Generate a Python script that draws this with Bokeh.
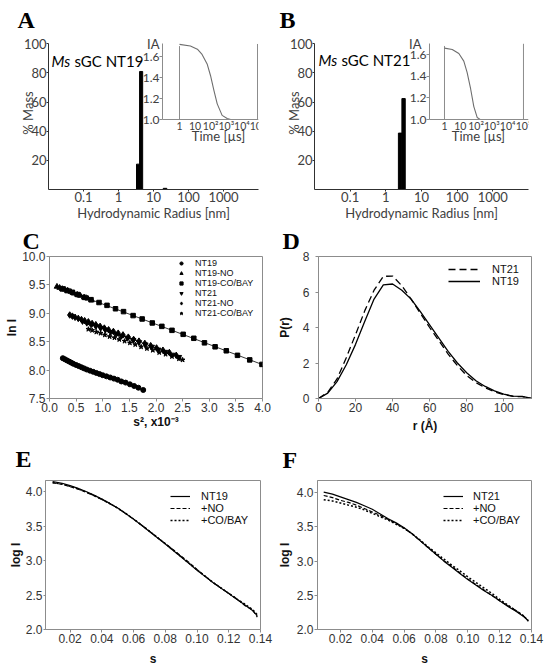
import numpy as np
from bokeh.plotting import figure
from bokeh.models import (Range1d, LinearAxis, LogAxis, FixedTicker,
                          Label, Legend, LegendItem, PrintfTickFormatter)
from bokeh.layouts import column, row
from bokeh.embed import file_html
from bokeh.resources import INLINE

# ---------------- data ----------------
# A: DLS mass distribution NT19 (bins in nm)
A_LEFT = [3.27, 4.0, 19.0]
A_RIGHT = [4.0, 4.9, 24.0]
A_MASS = [17.4, 81.0, 0.8]
A_T = [1, 5, 14, 28, 59, 97, 159, 262, 540, 1140, 1900]
A_IA = [1.716, 1.70, 1.67, 1.62, 1.53, 1.42, 1.28, 1.15, 1.04, 1.01, 1.0]

# B: DLS mass distribution NT21
B_LEFT = [2.25, 2.82]
B_RIGHT = [2.82, 3.5]
B_MASS = [38.7, 62.4]
B_T = [1, 3.1, 8.1, 16.7, 27, 45, 72, 117, 190]
B_IA = [1.66, 1.648, 1.61, 1.54, 1.436, 1.285, 1.12, 1.02, 1.0]

INSET_TICKS = [1, 10, 100, 1000, 10000, 100000]
INSET_TICK_LABELS = ["1", "10", "10²", "10³", "10⁴", "10⁵"]
INSET_IA_TICKS = [1.0, 1.2, 1.4, 1.6]
RADIUS_TICKS = [0.1, 1, 10, 100, 1000]
RADIUS_LABELS = ["0.1", "1", "10", "100", "1000"]
MASS_TICKS = [20, 40, 60, 80, 100]

# C: Guinier plots
C_NT19_X = [0.25, 0.29, 0.33, 0.37, 0.41, 0.45, 0.50, 0.55, 0.60, 0.65, 0.70, 0.76, 0.82,
            0.88, 0.94, 1.00, 1.07, 1.14, 1.21, 1.28, 1.35, 1.43, 1.51, 1.59, 1.67, 1.76]
C_NT19_Y = [8.21, 8.19, 8.17, 8.15, 8.13, 8.11, 8.09, 8.07, 8.05, 8.03, 8.01, 7.99, 7.97,
            7.95, 7.93, 7.91, 7.89, 7.87, 7.85, 7.83, 7.80, 7.78, 7.75, 7.72, 7.69, 7.65]
C_NT19NO_X = [0.14, 0.19, 0.24, 0.29, 0.34, 0.40, 0.46, 0.52, 0.58, 0.65, 0.72, 0.79]
C_NT19NO_Y = [9.47, 9.45, 9.43, 9.42, 9.40, 9.38, 9.35, 9.33, 9.31, 9.28, 9.26, 9.23]
C_NT19CB_X = [0.24, 0.33, 0.43, 0.53, 0.66, 0.78, 0.93, 1.08, 1.24, 1.39, 1.57, 1.74, 1.93,
              2.11, 2.30, 2.51, 2.71, 2.91, 3.11, 3.32, 3.53, 3.76, 3.99]
C_NT19CB_Y = [9.43, 9.40, 9.37, 9.33, 9.28, 9.24, 9.19, 9.14, 9.08, 9.03, 8.96, 8.90, 8.83,
              8.77, 8.70, 8.63, 8.56, 8.48, 8.41, 8.34, 8.26, 8.18, 8.10]
C_NT21_X = [0.62, 0.70, 0.78, 0.87, 0.96, 1.05, 1.15, 1.25, 1.35, 1.46, 1.57, 1.68, 1.80,
            1.92, 2.04, 2.17, 2.30, 2.43]
C_NT21_Y = [8.86, 8.83, 8.80, 8.77, 8.74, 8.71, 8.67, 8.64, 8.60, 8.57, 8.53, 8.49, 8.45,
            8.41, 8.36, 8.32, 8.27, 8.23]
C_NT21NO_X = [0.38, 0.43, 0.48, 0.54, 0.60, 0.66, 0.73, 0.80, 0.87, 0.95, 1.03, 1.11, 1.20,
              1.29, 1.38, 1.48, 1.58, 1.68, 1.79, 1.90, 2.01, 2.13, 2.25, 2.38]
C_NT21NO_Y = [8.97, 8.95, 8.93, 8.91, 8.89, 8.87, 8.85, 8.82, 8.80, 8.77, 8.74, 8.71, 8.68,
              8.65, 8.62, 8.58, 8.54, 8.51, 8.47, 8.43, 8.39, 8.35, 8.31, 8.26]
C_NT21CB_X = [0.73, 0.80, 0.88, 0.96, 1.04, 1.13, 1.22, 1.31, 1.41, 1.51, 1.61, 1.72, 1.83,
              1.94, 2.06, 2.18, 2.30, 2.43, 2.50]
C_NT21CB_Y = [8.72, 8.70, 8.67, 8.65, 8.62, 8.59, 8.57, 8.54, 8.51, 8.48, 8.45, 8.41, 8.38,
              8.35, 8.31, 8.28, 8.24, 8.20, 8.18]

# D: pair distance distributions
D_R = [0, 5, 10, 15, 20, 25, 30, 35, 40, 45, 50, 55, 60, 65, 70, 75, 80, 85, 90, 95, 100, 105, 110, 115]
D_NT19 = [0, 0.3, 0.95, 1.9, 3.05, 4.35, 5.6, 6.4, 6.45, 6.1, 5.6, 4.9, 4.15, 3.4, 2.65,
          2.0, 1.45, 1.0, 0.68, 0.43, 0.25, 0.13, 0.12, 0]
D_NT21 = [0, 0.35, 1.1, 2.3, 3.6, 4.95, 6.1, 6.88, 6.9, 6.35, 5.6, 4.8, 4.0, 3.25, 2.5,
          1.85, 1.3, 0.9, 0.6, 0.38, 0.22, 0.12, 0.1, 0]

# E / F: scattering curves
E_S = [0.009, 0.015, 0.02, 0.025, 0.03, 0.035, 0.04, 0.045, 0.05, 0.055, 0.06, 0.065, 0.07,
       0.075, 0.08, 0.085, 0.09, 0.095, 0.10, 0.105, 0.11, 0.115, 0.12, 0.125, 0.13, 0.135, 0.138]
E_NT19 = [4.145, 4.12, 4.085, 4.045, 4.00, 3.948, 3.89, 3.828, 3.76, 3.683, 3.60, 3.512, 3.42,
          3.33, 3.24, 3.145, 3.05, 2.955, 2.86, 2.77, 2.68, 2.60, 2.52, 2.44, 2.36, 2.275, 2.20]
E_NO = [4.125, 4.105, 4.07, 4.035, 3.99, 3.94, 3.885, 3.825, 3.758, 3.682, 3.60, 3.515, 3.425,
        3.335, 3.245, 3.155, 3.065, 2.97, 2.87, 2.775, 2.68, 2.60, 2.525, 2.445, 2.35, 2.285, 2.18]
E_CB = [4.13, 4.11, 4.075, 4.04, 3.995, 3.944, 3.888, 3.826, 3.76, 3.683, 3.602, 3.515, 3.425,
        3.335, 3.245, 3.15, 3.055, 2.96, 2.865, 2.775, 2.685, 2.605, 2.525, 2.445, 2.37, 2.29, 2.21]
F_S = [0.0095, 0.015, 0.02, 0.025, 0.03, 0.035, 0.04, 0.045, 0.05, 0.055, 0.06, 0.065, 0.07,
       0.075, 0.08, 0.085, 0.09, 0.095, 0.10, 0.105, 0.11, 0.115, 0.12, 0.125, 0.13, 0.135, 0.138]
F_NT21 = [4.01, 3.98, 3.94, 3.90, 3.86, 3.81, 3.76, 3.69, 3.62, 3.56, 3.49, 3.40, 3.30,
          3.20, 3.10, 3.00, 2.91, 2.82, 2.73, 2.65, 2.57, 2.50, 2.42, 2.34, 2.27, 2.19, 2.13]
F_NO = [3.96, 3.93, 3.89, 3.86, 3.82, 3.77, 3.72, 3.67, 3.61, 3.55, 3.48, 3.40, 3.30,
        3.20, 3.10, 3.005, 2.92, 2.83, 2.74, 2.66, 2.58, 2.50, 2.42, 2.35, 2.28, 2.20, 2.12]
F_CB = [3.90, 3.88, 3.85, 3.82, 3.79, 3.75, 3.70, 3.65, 3.60, 3.54, 3.48, 3.40, 3.31,
        3.21, 3.12, 3.03, 2.94, 2.86, 2.77, 2.69, 2.61, 2.53, 2.44, 2.36, 2.28, 2.20, 2.13]

# ---------------- styling helpers ----------------
SANS_AB = "Lato"
SANS = "Liberation Sans"
SERIF = "Liberation Serif"
GREY = "#8c8c8c"
TXT = "#404040"


def base_fig(w, h, borders, **kw):
    l, r, t, b = borders
    p = figure(width=w, height=h, output_backend="svg", toolbar_location=None,
               min_border_left=l, min_border_right=r, min_border_top=t,
               min_border_bottom=b, **kw)
    p.grid.visible = False
    return p


def letter(p, txt, offset, standoff):
    p.title.text = txt
    p.title.text_font = SERIF
    p.title.text_font_style = "bold"
    p.title.text_font_size = "24px"
    p.title.text_color = "black"
    p.title.align = "left"
    p.title.offset = offset
    p.title.standoff = standoff
    p.title.vertical_align = "bottom"


def style_ab(p, xlabel, ylabel):
    p.outline_line_color = None
    p.xaxis.axis_label = xlabel
    p.yaxis.axis_label = ylabel
    for ax in p.axis:
        ax.axis_line_color = "#303030"
        ax.major_tick_line_color = "#303030"
        ax.major_tick_in = 0
        ax.major_tick_out = 2
        ax.minor_tick_line_color = None
        ax.major_label_standoff = 0
        ax.major_label_text_font = SANS_AB
        ax.major_label_text_font_size = "13px"
        ax.major_label_text_color = TXT
        ax.axis_label_text_font = SANS_AB
        ax.axis_label_text_font_size = "13px"
        ax.axis_label_text_font_style = "normal"
        ax.axis_label_text_color = TXT
    p.xaxis.ticker = FixedTicker(ticks=RADIUS_TICKS)
    p.xaxis.major_label_overrides = dict(zip(RADIUS_TICKS, RADIUS_LABELS))
    p.xaxis.axis_label_standoff = 0
    p.yaxis.ticker = FixedTicker(ticks=MASS_TICKS)
    p.yaxis.bounds = (0, 100)
    p.yaxis.axis_label_standoff = -15


def add_inset(p, to_main, iarange, yaxis_loc, ia_top, t_vals, ia_vals, ia_dx, time_center):
    """Inset drawn in the main (log) x coordinates; t values are mapped by to_main."""
    p.extra_y_ranges = {"iy": Range1d(*iarange)}
    tick_pos = [to_main(t) for t in INSET_TICKS]
    ax = LogAxis(y_range_name="iy", fixed_location=1.0,
                 bounds=(yaxis_loc, p.x_range.end),
                 ticker=FixedTicker(ticks=tick_pos),
                 major_label_overrides=dict(zip(tick_pos, INSET_TICK_LABELS)))
    ay = LinearAxis(y_range_name="iy", fixed_location=yaxis_loc,
                    bounds=(1.0, ia_top),
                    ticker=FixedTicker(ticks=INSET_IA_TICKS),
                    formatter=PrintfTickFormatter(format="%.1f"))
    for a in (ax, ay):
        a.axis_line_color = GREY
        a.major_tick_line_color = GREY
        a.minor_tick_line_color = None
        a.major_tick_in = 0
        a.major_label_text_font = SANS_AB
        a.major_label_text_color = TXT
    ax.major_label_text_font_size = "10.5px"
    ay.major_label_text_font_size = "12px"
    ax.major_tick_out = 0
    ax.major_label_standoff = 0
    ay.major_tick_out = 3
    ay.major_label_standoff = 0
    p.add_layout(ax, "below")
    p.add_layout(ay, "left")
    # vertical guide lines of the inset box
    edge = [tick_pos[0], tick_pos[-1]]
    p.segment(x0=edge, y0=[1.0, 1.0], x1=edge, y1=[ia_top - 0.02, ia_top],
              y_range_name="iy", line_color=GREY, line_width=1)
    p.line([to_main(t) for t in t_vals], ia_vals, y_range_name="iy",
           line_color="#6e6e6e", line_width=1.1)
    p.add_layout(Label(x=yaxis_loc, y=ia_top, y_range_name="iy",
                       x_offset=ia_dx, y_offset=0, text="IA", text_align="right",
                       text_baseline="middle", text_font=SANS_AB,
                       text_font_size="13px", text_color=TXT))
    p.add_layout(Label(x=to_main(time_center), y=1.0, y_range_name="iy",
                       y_offset=-16, text="Time [µs]", text_align="center",
                       text_baseline="middle", text_font=SANS_AB,
                       text_font_size="13px", text_color=TXT))


def title_label(p, x, y, dx, dy, name):
    p.add_layout(Label(x=x, y=y, x_offset=dx, y_offset=dy, text="Ms", text_font=SANS_AB,
                       text_font_style="italic", text_font_size="15px",
                       text_color="black", text_baseline="middle"))
    p.add_layout(Label(x=x, y=y, x_offset=dx + 23, y_offset=dy, text=name,
                       text_font=SANS_AB, text_font_size="15px",
                       text_color="black", text_baseline="middle"))


def style_sp(p, xlabel, ylabel, xticks, yticks, xfmt, yfmt):
    p.outline_line_color = GREY
    p.xaxis.axis_label = xlabel
    p.yaxis.axis_label = ylabel
    p.xaxis.ticker = FixedTicker(ticks=xticks)
    p.yaxis.ticker = FixedTicker(ticks=yticks)
    if xfmt:
        p.xaxis.formatter = PrintfTickFormatter(format=xfmt)
    if yfmt:
        p.yaxis.formatter = PrintfTickFormatter(format=yfmt)
    for ax in p.axis:
        ax.axis_line_color = GREY
        ax.major_tick_line_color = GREY
        ax.major_tick_in = 0
        ax.major_tick_out = 3
        ax.minor_tick_line_color = None
        ax.major_label_standoff = 1
        ax.major_label_text_font = SANS
        ax.major_label_text_font_size = "12px"
        ax.major_label_text_color = "#333333"
        ax.axis_label_text_font = SANS
        ax.axis_label_text_font_size = "12px"
        ax.axis_label_text_font_style = "bold"
        ax.axis_label_text_color = "#111111"
        ax.axis_label_standoff = 0


def legend(p, items, loc, glyph_w, standoff, fs, spacing=0, gh=12):
    lg = Legend(items=[LegendItem(label=l, renderers=[r]) for l, r in items],
                location=loc, border_line_color=None, background_fill_alpha=0,
                padding=0, margin=0, spacing=spacing, glyph_width=glyph_w,
                glyph_height=gh, label_height=gh, label_standoff=standoff,
                label_text_font=SANS, label_text_font_size=fs,
                label_text_color="#111111")
    p.add_layout(lg)


def log_mapper(px_per_dec_main, px_t1_from_left, px_per_dec_inset, start):
    """Map an inset time value onto the main log x axis (pure scale conversion)."""
    base = np.log10(start) + px_t1_from_left / px_per_dec_main
    k = px_per_dec_inset / px_per_dec_main
    return lambda t: float(10 ** (base + k * np.log10(t)))


# ---------------- panel A ----------------
pA = base_fig(273, 223, (48, 15, 34, 34), x_axis_type="log",
              x_range=(0.01, 10000), y_range=(0, 105))
pA.quad(left=A_LEFT, right=A_RIGHT, bottom=0, top=A_MASS, color="black")
style_ab(pA, "Hydrodynamic Radius [nm]", "% Mass")
mapA = log_mapper(35.0, 131, 15.6, 0.01)
add_inset(pA, mapA, (0.3344, 1.7912), float(0.01 * 10 ** (114 / 35.0)), 1.72,
          A_T, A_IA, -3, 10 ** 2.5)
title_label(pA, 0.01, 88.5, 3, 0, "sGC NT19")
letter(pA, "A", -31, 8)

# ---------------- panel B ----------------
pB = base_fig(273, 223, (41, 18, 34, 34), x_axis_type="log",
              x_range=(0.01, 10000), y_range=(0, 105))
pB.quad(left=B_LEFT, right=B_RIGHT, bottom=0, top=B_MASS, color="black")
style_ab(pB, "Hydrodynamic Radius [nm]", "% Mass")
mapB = log_mapper(35.67, 130, 15.8, 0.01)
add_inset(pB, mapB, (0.3545, 1.7673), float(0.01 * 10 ** (115 / 35.67)), 1.70,
          B_T, B_IA, -8, 10 ** 2.15)
title_label(pB, 0.01, 89, 4, 0, "sGC NT21")
letter(pB, "B", -35, 8)

# ---------------- panel C ----------------
pC = base_fig(273, 212, (49, 11, 32, 30), x_range=(0, 4.0), y_range=(7.5, 10.0))
rc1 = pC.scatter(C_NT19_X, C_NT19_Y, marker="circle", size=5, color="black")
rc2 = pC.scatter(C_NT19NO_X, C_NT19NO_Y, marker="triangle", size=5.5, color="black")
rc3 = pC.scatter(C_NT19CB_X, C_NT19CB_Y, marker="square", size=4.5, color="black")
rc4 = pC.scatter(C_NT21_X, C_NT21_Y, marker="inverted_triangle", size=5.5, color="black")
rc5 = pC.scatter(C_NT21NO_X, C_NT21NO_Y, marker="diamond", size=6.5, color="black")
rc6 = pC.scatter(C_NT21CB_X, C_NT21CB_Y, marker="star", size=5, color="black")
for xs, ys in [(C_NT19NO_X + C_NT19CB_X, C_NT19NO_Y + C_NT19CB_Y),
               (C_NT21NO_X + C_NT21_X, C_NT21NO_Y + C_NT21_Y),
               (C_NT19_X, C_NT19_Y)]:
    k, b = np.polyfit(xs, ys, 1)
    x0, x1 = min(xs), max(xs)
    pC.line([x0, x1], [k * x0 + b, k * x1 + b], color="black", line_width=0.8)
style_sp(pC, "s², x10⁻³", "ln I", [0, 0.5, 1.0, 1.5, 2.0, 2.5, 3.0, 3.5, 4.0],
         [7.5, 8.0, 8.5, 9.0, 9.5, 10.0], "%.1f", "%.1f")
legend(pC, [("NT19", rc1), ("NT19-NO", rc2), ("NT19-CO/BAY", rc3), ("NT21", rc4),
            ("NT21-NO", rc5), ("NT21-CO/BAY", rc6)], (128, 80), 8, 10, "9px",
       spacing=0, gh=8)
letter(pC, "C", -27, 5)

# ---------------- panel D ----------------
pD = base_fig(273, 212, (45, 15, 31, 31), x_range=(0, 115), y_range=(0, 8))
rd21 = pD.line(D_R, D_NT21, color="black", line_width=1.3, line_dash="7 4")
rd19 = pD.line(D_R, D_NT19, color="black", line_width=1.3)
style_sp(pD, "r (Å)", "P(r)", [0, 20, 40, 60, 80, 100], [0, 2, 4, 6, 8], None, None)
pD.yaxis.major_label_standoff = 6
pD.yaxis.axis_label_standoff = 8
pD.xaxis.axis_label_standoff = 4
legend(pD, [("NT21", rd21), ("NT19", rd19)], (130, 111), 32, 12, "11px")
letter(pD, "D", -36, 5)

# ---------------- panel E ----------------
pE = base_fig(273, 236, (45, 13, 45, 42), x_range=(0.0045, 0.14), y_range=(2.0, 4.16))
re1 = pE.line(E_S, E_NT19, color="black", line_width=1.2)
re2 = pE.line(E_S, E_NO, color="black", line_width=1.2, line_dash="4 2")
re3 = pE.line(E_S, E_CB, color="black", line_width=1.5, line_dash="2 2")
style_sp(pE, "s", "log I", [0.02, 0.04, 0.06, 0.08, 0.10, 0.12, 0.14],
         [2.0, 2.5, 3.0, 3.5, 4.0], "%.2f", "%.1f")
pE.yaxis.major_tick_out = 2
pE.xaxis.axis_label_standoff = 6
legend(pE, [("NT19", re1), ("+NO", re2), ("+CO/BAY", re3)], (125, 103), 20, 11, "11px")
letter(pE, "E", -30, 17)

# ---------------- panel F ----------------
pF = base_fig(273, 236, (44, 15, 44, 42), x_range=(0.0056, 0.14), y_range=(2.0, 4.18))
rf1 = pF.line(F_S, F_NT21, color="black", line_width=1.2)
rf2 = pF.line(F_S, F_NO, color="black", line_width=1.2, line_dash="4 2")
rf3 = pF.line(F_S, F_CB, color="black", line_width=1.5, line_dash="2 2")
style_sp(pF, "s", "log I", [0.02, 0.04, 0.06, 0.08, 0.10, 0.12, 0.14],
         [2.0, 2.5, 3.0, 3.5, 4.0], "%.2f", "%.1f")
pF.yaxis.axis_label_standoff = 2
pF.xaxis.axis_label_standoff = 6
legend(pF, [("NT21", rf1), ("+NO", rf2), ("+CO/BAY", rf3)], (126, 103), 20, 10, "11px")
letter(pF, "F", -35, 16)

layout = column(row(pA, pB), row(pC, pD), row(pE, pF))
open("out.html", "w").write(file_html(layout, INLINE))
